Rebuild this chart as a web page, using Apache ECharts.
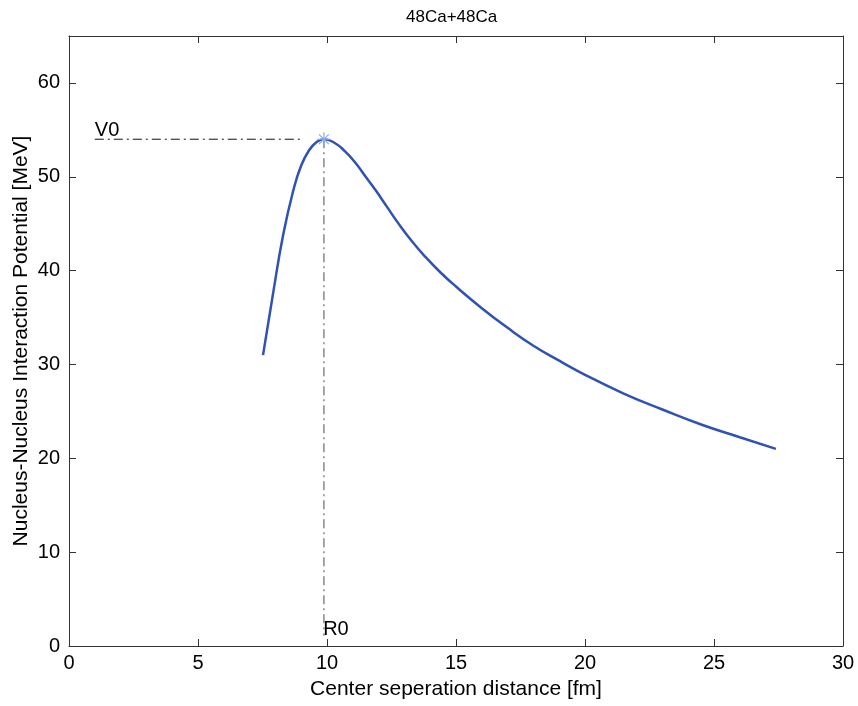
<!DOCTYPE html>
<html>
<head>
<meta charset="utf-8">
<script src="https://cdn.jsdelivr.net/npm/echarts@6/dist/echarts.min.js"></script>
<style>
html,body{margin:0;padding:0;background:#fff;}
#chart{width:858px;height:706px;}
</style>
</head>
<body>
<div id="chart"></div>
<script>
var chartTitle = '48Ca+48Ca';
var xAxisName = 'Center seperation distance [fm]';
var yAxisName = 'Nucleus-Nucleus Interaction Potential [MeV]';

var distance = [7.52, 7.9, 8.3, 8.7, 9.0, 9.3, 9.6, 9.88, 10.3, 10.7, 11.1, 11.5, 11.9, 12.3, 12.8, 13.3, 13.8, 14.4, 15.0, 16.0, 17.0, 18.0, 19.0, 20.0, 21.5, 23.0, 24.5, 26.0, 27.4];
var potential = [31.0, 37.4, 43.8, 48.6, 51.2, 52.8, 53.7, 54.0, 53.6, 52.7, 51.5, 50.0, 48.5, 46.9, 44.9, 43.1, 41.5, 39.8, 38.3, 36.0, 33.9, 32.0, 30.4, 28.9, 26.9, 25.2, 23.6, 22.25, 21.0];

var peakR0 = 9.88;
var peakV0 = 54.0;
var v0LineX = [1.0, 9.0];
var r0LineY = [54.0, 1.1];
var v0LabelPos = [1.0, 54.0];
var r0LabelPos = [9.85, 1.0];

var chart = echarts.init(document.getElementById('chart'));

var fontFam = '"Liberation Sans", Arial, sans-serif';
var axisCol = '#333';

function mainAxisCommon(extra) {
  return Object.assign({
    type: 'value',
    axisLine: {show: true, onZero: false, lineStyle: {color: axisCol, width: 1}},
    axisTick: {show: true, inside: true, length: 7, lineStyle: {color: axisCol}},
    splitLine: {show: false}
  }, extra);
}

var option = {
  backgroundColor: '#fff',
  animation: false,
  title: {
    text: chartTitle,
    left: 401,
    top: 4,
    textStyle: {fontFamily: fontFam, fontSize: 17, fontWeight: 'normal', color: '#000'}
  },
  grid: {left: 69, right: 15, top: 36, bottom: 60, containLabel: false, outerBoundsMode: 'none'},
  xAxis: [
    mainAxisCommon({
      min: 0, max: 30, interval: 5,
      position: 'bottom',
      name: xAxisName, nameLocation: 'middle', nameGap: 33, nameMoveOverlap: false,
      nameTextStyle: {fontFamily: fontFam, fontSize: 21, color: '#000'},
      axisLabel: {fontFamily: fontFam, fontSize: 20, color: '#000', margin: 7}
    }),
    mainAxisCommon({
      min: 0, max: 30, interval: 5,
      position: 'top',
      axisLabel: {show: false}
    })
  ],
  yAxis: [
    mainAxisCommon({
      min: 0, max: 65, interval: 10,
      position: 'left',
      name: yAxisName, nameLocation: 'middle', nameGap: 37, nameMoveOverlap: false,
      nameTextStyle: {fontFamily: fontFam, fontSize: 21, color: '#000'},
      axisLabel: {fontFamily: fontFam, fontSize: 20, color: '#000', margin: 9, showMaxLabel: false,
        formatter: function (v) { return v > 60 ? '' : String(v); }}
    }),
    mainAxisCommon({
      min: 0, max: 65, interval: 10,
      position: 'right',
      axisLabel: {show: false}
    })
  ],
  series: [
    {
      type: 'line',
      name: 'V0 line',
      data: [[v0LineX[0], peakV0], [v0LineX[1], peakV0]],
      symbol: 'none',
      lineStyle: {color: '#111', width: 1, type: [9, 4, 2, 4]},
      z: 2
    },
    {
      type: 'line',
      name: 'R0 line',
      data: [[peakR0, r0LineY[0]], [peakR0, r0LineY[1]]],
      symbol: 'none',
      lineStyle: {color: '#888', width: 1.5, type: [9, 4, 2, 4]},
      z: 2
    },
    {
      type: 'line',
      name: 'potential',
      data: distance.map(function (x, i) { return [x, potential[i]]; }),
      symbol: 'none',
      smooth: 0.5,
      lineStyle: {color: '#2f52b4', width: 2.5},
      z: 3
    },
    {
      type: 'scatter',
      name: 'peak',
      data: [[peakR0, peakV0]],
      symbol: 'path://M0,-10L0,10M-10,0L10,0M-7,-7L7,7M-7,7L7,-7',
      symbolSize: 14,
      itemStyle: {color: 'none', borderColor: '#8eaae6', borderWidth: 1.2, opacity: 1},
      z: 4
    },
    {
      type: 'scatter',
      name: 'labels',
      data: [
        {value: v0LabelPos, label: {formatter: 'V0', offset: [0, 1]}},
        {value: r0LabelPos, label: {formatter: 'R0', offset: [0, 3]}}
      ],
      symbolSize: 0,
      itemStyle: {opacity: 1},
      label: {show: true, position: [0, 0], fontFamily: fontFam, fontSize: 20, color: '#000', opacity: 1, align: 'left', verticalAlign: 'bottom'},
      z: 5
    }
  ]
};
chart.setOption(option);
</script>
</body>
</html>
